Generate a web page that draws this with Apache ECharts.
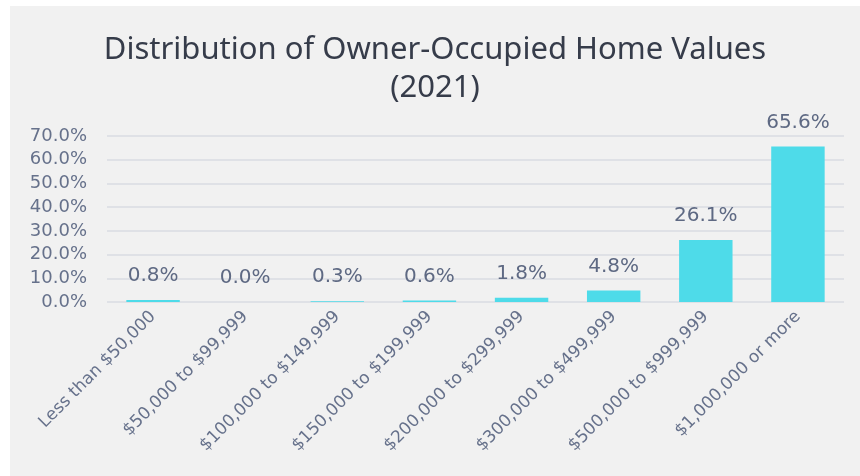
<!DOCTYPE html>
<html>
<head>
<meta charset="utf-8">
<script src="https://cdn.jsdelivr.net/npm/echarts@6/dist/echarts.min.js"></script>
<style>
  html, body { margin: 0; padding: 0; background: #ffffff; }
  #chart { position: absolute; left: 10px; top: 6px; width: 850px; height: 470px; }
</style>
</head>
<body>
<div id="chart"></div>
<script>
  // home value buckets
  const categories = [
    'Less than $50,000',
    '$50,000 to $99,999',
    '$100,000 to $149,999',
    '$150,000 to $199,999',
    '$200,000 to $299,999',
    '$300,000 to $499,999',
    '$500,000 to $999,999',
    '$1,000,000 or more'
  ];
  const shares = [0.8, 0.0, 0.3, 0.6, 1.8, 4.8, 26.1, 65.6];
  const yTicks = [0, 10, 20, 30, 40, 50, 60, 70];

  const textColor = '#66718b';
  const chart = echarts.init(document.getElementById('chart'));

  chart.setOption({
    backgroundColor: '#f1f1f1',
    textStyle: { fontFamily: 'DejaVu Sans' },
    title: {
      text: 'Distribution of Owner-Occupied Home Values\n(2021)',
      left: 'center',
      top: 20,
      textStyle: {
        fontFamily: 'Noto Sans',
        fontSize: 31,
        fontWeight: 'normal',
        color: '#363c4a',
        lineHeight: 38
      }
    },
    grid: {
      left: 97,
      right: 16,
      top: 130,
      bottom: 174,
      containLabel: false
    },
    xAxis: {
      type: 'category',
      data: categories,
      axisTick: { show: false },
      axisLine: { show: false },
      axisLabel: {
        rotate: 45,
        interval: 0,
        fontSize: 17,
        color: textColor,
        margin: 12
      }
    },
    yAxis: {
      type: 'value',
      min: yTicks[0],
      max: yTicks[yTicks.length - 1],
      interval: 10,
      axisLabel: {
        fontSize: 18,
        color: textColor,
        margin: 20,
        formatter: v => v.toFixed(1) + '%'
      },
      splitLine: { lineStyle: { color: '#dfe1e6', width: 2 } }
    },
    series: [{
      type: 'bar',
      data: shares,
      barCategoryGap: '42%',
      itemStyle: { color: '#4edbe9' },
      label: {
        show: true,
        position: 'top',
        distance: 14,
        fontSize: 20,
        color: '#5e6983',
        formatter: p => p.value.toFixed(1) + '%'
      },
      animation: false
    }]
  });
</script>
</body>
</html>
